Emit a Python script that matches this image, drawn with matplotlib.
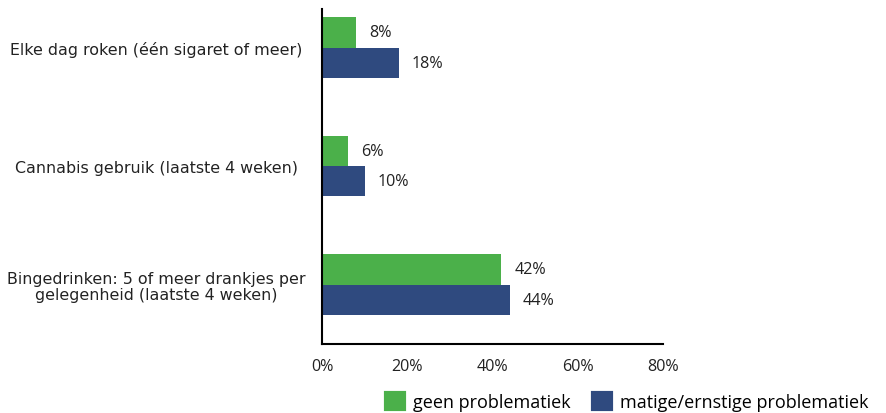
import numpy as np
import matplotlib.pyplot as plt
from matplotlib.patches import Patch

categories = ["Elke dag roken (één sigaret of meer)",
              "Cannabis gebruik (laatste 4 weken)",
              "Bingedrinken: 5 of meer drankjes per\ngelegenheid (laatste 4 weken)"]
geen = [8, 6, 42]
matig = [18, 10, 44]
series_names = ["geen problematiek", "matige/ernstige problematiek"]
xticks = [0, 20, 40, 60, 80]

green = "#4bb04a"
navy = "#2f4a7f"
txt = "#222222"

fig = plt.figure(figsize=(8.87, 4.14), dpi=100)
ax = fig.add_axes([0.363, 0.1667, 0.3845, 0.8091])

y = np.arange(len(categories))
h = 0.255
b1 = ax.barh(y - h / 2, geen, height=h, color=green)
b2 = ax.barh(y + h / 2, matig, height=h, color=navy)

for bars, vals in ((b1, geen), (b2, matig)):
    for bar, v in zip(bars, vals):
        ax.annotate(f"{v}%", (bar.get_width(), bar.get_y() + bar.get_height() / 2),
                    xytext=(9.5, 0), textcoords="offset points", va="center",
                    ha="left", fontsize=11.6, color=txt, family="Open Sans")

ax.set_xlim(0, 80)
ax.set_ylim(2.502, -0.325)
ax.set_xticks(xticks)
ax.set_xticklabels([f"{t}%" for t in xticks], family="Open Sans", fontsize=11.6, color=txt)
ax.set_yticks(y)
ax.set_yticklabels(categories, fontsize=11.4, color=txt, ha="center", linespacing=1.05)
ax.tick_params(axis="y", length=0, pad=0)
ax.tick_params(axis="x", length=0, pad=10)
for lab in ax.get_yticklabels():
    lab.set_x(-0.485)
for s in ("top", "right"):
    ax.spines[s].set_visible(False)
ax.spines["left"].set_linewidth(1.5)
ax.spines["bottom"].set_linewidth(1.5)

handles = [Patch(facecolor=green, edgecolor=green, linewidth=3, joinstyle="round"),
           Patch(facecolor=navy, edgecolor=navy, linewidth=3, joinstyle="round")]
fig.legend(handles, series_names, loc="lower right", bbox_to_anchor=(0.997, -0.034),
           ncol=2, frameon=False, prop={"family": "Open Sans", "size": 13},
           handlelength=1.0, handleheight=1.0, handletextpad=0.5, columnspacing=1.2)

fig.savefig("out.png", dpi=100)
